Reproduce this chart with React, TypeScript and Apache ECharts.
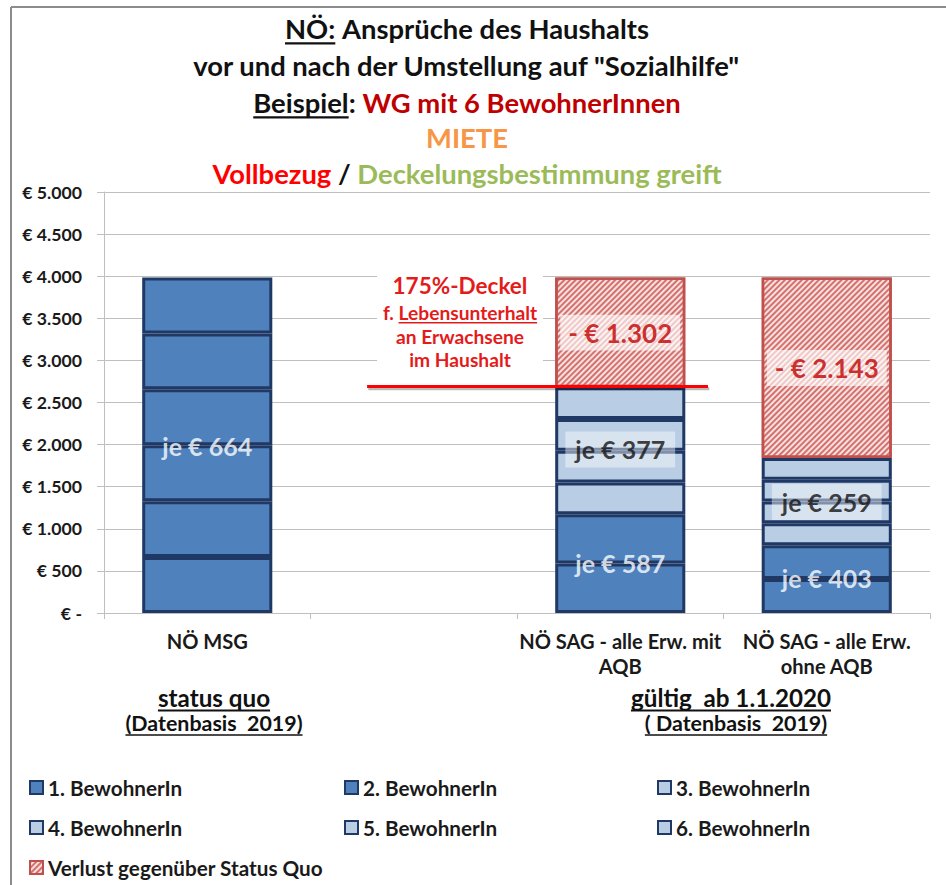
import React, { useEffect, useRef } from 'react';
import * as echarts from 'echarts';

// ---------- data ----------
const categories = ['NÖ MSG', '', 'NÖ SAG - alle Erw. mit\nAQB', 'NÖ SAG - alle Erw.\nohne AQB'];
const residentNames = ['1. BewohnerIn', '2. BewohnerIn', '3. BewohnerIn', '4. BewohnerIn', '5. BewohnerIn', '6. BewohnerIn'];
const lossName = 'Verlust gegenüber Status Quo';
const bewohner1 = [664, null, 587, 403];
const bewohner2 = [664, null, 587, 403];
const bewohner3 = [664, null, 377, 259];
const bewohner4 = [664, null, 377, 259];
const bewohner5 = [664, null, 377, 259];
const bewohner6 = [664, null, 377, 259];
const verlust = [null, null, 1302, 2143];
const deckelValue = 2690;
const yMin = 0;
const yMax = 5000;
const yStep = 500;

const FONT = 'Lato, "Open Sans", "DejaVu Sans", sans-serif';
const DARK = '#4f81bd';
const LIGHT = '#b9cde5';
const EDGE = '#1f3864';
const LOSS_EDGE = '#c0504d';

let _ctx: CanvasRenderingContext2D | null = null;
function measure(text: string, size: number, weight = 'bold') {
  if (!_ctx) _ctx = document.createElement('canvas').getContext('2d');
  _ctx!.font = `${weight} ${size}px ${FONT}`;
  return _ctx!.measureText(text).width;
}
function fit(text: string, target: number) {
  return Math.round((100 * target) / measure(text, 100) * 10) / 10;
}
function thousands(v: number) {
  return String(v).replace(/\B(?=(\d{3})+(?!\d))/g, '.');
}

type Seg = { t: string; c: string; u?: boolean };
function textLine(segs: Seg[], cx: number, cy: number, size: number, z = 10) {
  const els: any[] = [];
  const widths = segs.map((s) => measure(s.t, size));
  const total = widths.reduce((a, b) => a + b, 0);
  let x = cx - total / 2;
  segs.forEach((s, i) => {
    const lead = s.t.length - s.t.trimStart().length;
    const leadW = lead ? measure(s.t.slice(0, lead), size) : 0;
    const body = s.t.trim();
    const bodyW = measure(body, size);
    els.push({
      type: 'text',
      x: x + leadW,
      y: cy,
      z,
      silent: true,
      style: { text: body, fill: s.c, font: `bold ${size}px ${FONT}`, align: 'left', verticalAlign: 'middle' },
    });
    if (s.u) {
      const uy = cy + size * 0.56;
      els.push({
        type: 'line',
        z,
        silent: true,
        shape: { x1: x + leadW, y1: uy, x2: x + leadW + bodyW, y2: uy },
        style: { stroke: s.c, lineWidth: Math.max(1, size / 13) },
      });
    }
    x += widths[i];
  });
  return els;
}

export default function App() {
  const ref = useRef<HTMLDivElement>(null);

  useEffect(() => {
    if (!ref.current) return;
    const chart = echarts.init(ref.current, undefined, { renderer: 'svg' });

    const titleSize = fit('vor und nach der Umstellung auf "Sozialhilfe"', 548);
    const yLabelSize = fit('€ 5.000', 60);
    const xLabelSize = fit('NÖ SAG - alle Erw. mit', 202);
    const legendSize = fit('1. BewohnerIn', 134);
    const jeSize = fit('je € 377', 90);
    const lossSize = fit('- € 1.302', 104);
    const deckelSize = fit('175%-Deckel', 135);
    const deckelSub = fit('f. Lebensunterhalt', 154);
    const headSize = fit('status quo', 112);
    const baseSize = fit('(Datenbasis 2019)', 172);

    const residentData = [bewohner1, bewohner2, bewohner3, bewohner4, bewohner5, bewohner6];
    const residentFill = [DARK, DARK, LIGHT, LIGHT, LIGHT, LIGHT];

    const barSeries: any[] = residentData.map((vals, s) => ({
      name: residentNames[s],
      type: 'bar',
      stack: 'total',
      barWidth: '63%',
      silent: true,
      itemStyle: { color: residentFill[s], borderColor: EDGE, borderWidth: 3 },
      // status-quo bar: all residents shown dark
      data: vals.map((v, i) => (i === 0 && v != null ? { value: v, itemStyle: { color: DARK } } : v)),
    }));

    barSeries.push({
      name: lossName,
      type: 'bar',
      stack: 'total',
      barWidth: '63%',
      silent: true,
      itemStyle: {
        color: '#f6e1e0',
        borderColor: LOSS_EDGE,
        borderWidth: 2.5,
        decal: {
          symbol: 'rect',
          symbolSize: 1,
          color: 'rgba(205,85,80,0.8)',
          dashArrayX: [1, 0],
          dashArrayY: [1.1, 1.5],
          rotation: -Math.PI / 4,
        },
      },
      data: verlust,
    });

    const onDark = { color: '#ffffff', fontSize: jeSize, fontWeight: 'bold', fontFamily: FONT };
    const onLight = {
      color: '#111111',
      fontSize: jeSize,
      fontWeight: 'bold',
      fontFamily: FONT,
      backgroundColor: 'rgba(255,255,255,0.55)',
      padding: [Math.max(2, (41 - jeSize * 1.2) / 2), 10],
    };
    const onLoss = {
      color: '#c00000',
      fontSize: lossSize,
      fontWeight: 'bold',
      fontFamily: FONT,
      backgroundColor: 'rgba(255,255,255,0.78)',
      padding: [Math.max(2, (41 - lossSize * 1.2) / 2), 8],
    };

    const annotations = [
      { cat: 0, y: 1983, text: `je € ${bewohner1[0]}`, style: onDark },
      { cat: 2, y: 594, text: `je € ${bewohner1[2]}`, style: onDark },
      { cat: 2, y: 1942, text: `je € ${bewohner3[2]}`, style: onLight },
      { cat: 3, y: 416, text: `je € ${bewohner1[3]}`, style: onDark },
      { cat: 3, y: 1318, text: `je € ${bewohner3[3]}`, style: onLight },
      { cat: 2, y: 3331, text: `- € ${thousands(verlust[2] as number)}`, style: onLoss },
      { cat: 3, y: 2910, text: `- € ${thousands(verlust[3] as number)}`, style: onLoss },
    ];

    const labelSeries = {
      type: 'scatter',
      xAxisIndex: 0,
      yAxisIndex: 0,
      symbolSize: 1,
      silent: true,
      z: 5,
      itemStyle: { color: 'rgba(0,0,0,0)' },
      data: annotations.map((a) => ({
        value: [a.cat, a.y],
        label: { show: true, position: 'inside', formatter: a.text, ...a.style },
      })),
    };

    const capStart = 1.274;
    const capEnd = 2.925;
    const capShadow = {
      type: 'line',
      xAxisIndex: 1,
      yAxisIndex: 0,
      symbol: 'none',
      silent: true,
      z: 6,
      lineStyle: { color: 'rgba(0,0,0,0.28)', width: 3 },
      data: [
        [capStart + 0.006, deckelValue - 28],
        [capEnd + 0.006, deckelValue - 28],
      ],
    };
    const capSeries = {
      type: 'line',
      xAxisIndex: 1,
      yAxisIndex: 0,
      symbol: 'none',
      silent: true,
      z: 7,
      lineStyle: { color: '#ff0000', width: 3 },
      data: [
        [capStart, deckelValue],
        [capEnd, deckelValue],
      ],
    };

    const allNames = [...residentNames, lossName];
    const legendPos = [
      [29, 786], [344, 786], [657, 786],
      [29, 826], [344, 826], [657, 826],
      [29, 866],
    ];
    const legends = allNames.map((n, i) => ({
      data: [n],
      left: legendPos[i][0],
      top: legendPos[i][1] - 9,
      padding: 0,
      itemWidth: 13,
      itemHeight: 13,
      itemGap: 0,
      icon: 'rect',
      selectedMode: false,
      itemStyle: { borderWidth: 2 },
      textStyle: { fontSize: legendSize, fontWeight: 'bold', color: '#1a1a1a', fontFamily: FONT },
    }));

    const RED = '#e41b1b';
    const graphics: any[] = [
      { type: 'line', silent: true, z: 20, shape: { x1: 11, y1: 7, x2: 946, y2: 7 }, style: { stroke: '#8c8c8c', lineWidth: 2 } },
      { type: 'line', silent: true, z: 20, shape: { x1: 11, y1: 7, x2: 11, y2: 885 }, style: { stroke: '#8c8c8c', lineWidth: 2 } },
      ...textLine([{ t: 'NÖ:', c: '#111', u: true }, { t: ' Ansprüche des Haushalts', c: '#111' }], 467, 28, titleSize),
      ...textLine([{ t: 'vor und nach der Umstellung auf "Sozialhilfe"', c: '#111' }], 467, 65, titleSize),
      ...textLine(
        [{ t: 'Beispiel', c: '#111', u: true }, { t: ': ', c: '#111' }, { t: 'WG mit 6 BewohnerInnen', c: '#c00000' }],
        467, 102, titleSize
      ),
      ...textLine([{ t: 'MIETE', c: '#f79646' }], 467, 137, titleSize),
      ...textLine(
        [{ t: 'Vollbezug', c: '#ff0000' }, { t: ' / ', c: '#111' }, { t: 'Deckelungsbestimmung greift', c: '#9bbb59' }],
        467, 173, titleSize
      ),
      { type: 'rect', silent: true, z: 1, shape: { x: 377, y: 267, width: 166, height: 106 }, style: { fill: '#ffffff' } },
      ...textLine([{ t: '175%-Deckel', c: RED }], 460, 285, deckelSize),
      ...textLine([{ t: 'f. ', c: RED }, { t: 'Lebensunterhalt', c: RED, u: true }], 460, 312, deckelSub),
      ...textLine([{ t: 'an Erwachsene', c: RED }], 460, 336, deckelSub),
      ...textLine([{ t: 'im Haushalt', c: RED }], 460, 359, deckelSub),
      ...textLine([{ t: 'status quo', c: '#111', u: true }], 214, 697, headSize),
      ...textLine([{ t: '(Datenbasis  2019)', c: '#111', u: true }], 214, 723, baseSize),
      ...textLine([{ t: 'gültig  ab 1.1.2020', c: '#111', u: true }], 731, 697, headSize),
      ...textLine([{ t: '( Datenbasis  2019)', c: '#111', u: true }], 736, 723, baseSize),
    ];

    chart.setOption({
      animation: false,
      backgroundColor: '#ffffff',
      textStyle: { fontFamily: FONT },
      grid: { left: 104, right: 16, top: 192, bottom: 272, containLabel: false },
      legend: legends,
      xAxis: [
        {
          type: 'category',
          data: categories,
          axisLine: { show: true, lineStyle: { color: '#bfbfbf', width: 1 } },
          axisTick: { show: true, length: 6, lineStyle: { color: '#bfbfbf' } },
          axisLabel: {
            interval: 0,
            margin: 15,
            fontSize: xLabelSize,
            fontWeight: 'bold',
            color: '#1a1a1a',
            lineHeight: 25,
            fontFamily: FONT,
          },
        },
        { type: 'value', min: 0, max: categories.length, show: false },
      ],
      yAxis: {
        type: 'value',
        min: yMin,
        max: yMax,
        interval: yStep,
        axisLine: { show: true, lineStyle: { color: '#bfbfbf', width: 1 } },
        axisTick: { show: true, length: 7, lineStyle: { color: '#bfbfbf' } },
        splitLine: { show: true, lineStyle: { color: '#bfbfbf', width: 1 } },
        axisLabel: {
          margin: 22,
          fontSize: yLabelSize,
          fontWeight: 'bold',
          color: '#1a1a1a',
          fontFamily: FONT,
          formatter: (v: number) => (v === 0 ? '€ -' : '€ ' + thousands(v)),
        },
      },
      series: [...barSeries, labelSeries, capShadow, capSeries],
      graphic: graphics,
    });

    return () => chart.dispose();
  }, []);

  return <div ref={ref} style={{ position: 'absolute', left: 0, top: 0, width: 946, height: 885 }} />;
}
